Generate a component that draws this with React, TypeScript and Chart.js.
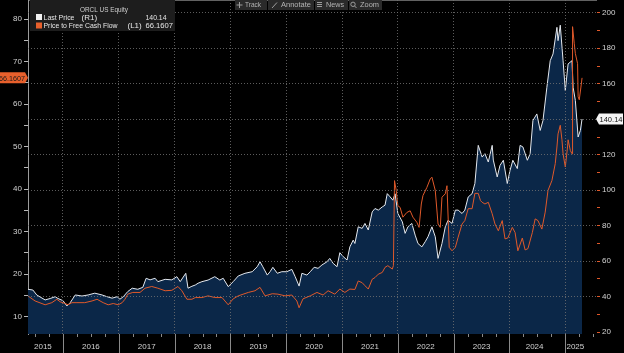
import React, { useEffect, useRef } from "react";
import { Chart, registerables } from "chart.js";

Chart.register(...registerables);

// ---------- DATA ----------
const priceDates = [
  2015.37, 2015.46, 2015.53, 2015.68, 2015.77, 2015.86, 2015.91, 2016.0, 2016.07, 2016.13,
  2016.22, 2016.34, 2016.45, 2016.57, 2016.7, 2016.79, 2016.88, 2016.97, 2017.02, 2017.08,
  2017.16, 2017.24, 2017.34, 2017.43, 2017.49, 2017.56, 2017.65, 2017.7, 2017.83, 2017.95,
  2018.04, 2018.1, 2018.2, 2018.24, 2018.31, 2018.37, 2018.42, 2018.49, 2018.6, 2018.72,
  2018.81, 2018.87, 2018.96, 2019.05, 2019.14, 2019.26, 2019.39, 2019.48, 2019.53, 2019.58,
  2019.66, 2019.71, 2019.76, 2019.84, 2019.92, 2020.01, 2020.1, 2020.16, 2020.23, 2020.28,
  2020.37, 2020.43, 2020.5, 2020.57, 2020.64, 2020.73, 2020.78, 2020.84, 2020.91, 2020.96,
  2021.02, 2021.09, 2021.14, 2021.2, 2021.23, 2021.29, 2021.36, 2021.41, 2021.47, 2021.54,
  2021.59, 2021.65, 2021.72, 2021.77, 2021.81, 2021.86, 2021.91, 2021.95, 2022.0, 2022.08,
  2022.13, 2022.18, 2022.25, 2022.31, 2022.36, 2022.43, 2022.49, 2022.54, 2022.61, 2022.67,
  2022.72, 2022.79, 2022.85, 2022.9, 2022.97, 2023.03, 2023.08, 2023.15, 2023.2, 2023.26,
  2023.33, 2023.38, 2023.44, 2023.51, 2023.56, 2023.62, 2023.69, 2023.71, 2023.78, 2023.83,
  2023.89, 2023.96, 2024.01, 2024.06, 2024.14, 2024.19, 2024.24, 2024.32, 2024.37, 2024.42,
  2024.49, 2024.55, 2024.6, 2024.67, 2024.73, 2024.78, 2024.85, 2024.87, 2024.91, 2024.96,
  2025.0, 2025.05, 2025.12, 2025.14, 2025.18, 2025.23, 2025.27, 2025.3,
];
const priceValues = [
  44.2, 43.8, 41.0, 38.2, 39.0, 40.0, 39.0, 37.8, 34.8, 36.7,
  41.0, 40.4, 41.0, 42.0, 41.0, 40.0, 39.2, 40.0, 38.6, 40.0,
  42.9, 44.8, 44.2, 45.3, 50.4, 49.5, 50.4, 48.5, 49.8, 49.5,
  51.3, 48.5, 53.2, 44.8, 45.9, 46.6, 47.6, 48.5, 49.4, 51.3,
  49.4, 50.4, 45.7, 48.5, 51.7, 53.2, 54.1, 56.9, 59.7, 56.9,
  52.2, 54.1, 56.6, 53.2, 54.1, 54.1, 55.4, 51.3, 46.0, 53.2,
  52.2, 54.1, 56.6, 56.0, 57.9, 59.7, 61.6, 58.8, 56.9, 64.8,
  62.6, 60.7, 68.1, 71.9, 70.0, 79.4, 78.5, 81.3, 77.6, 87.8,
  89.7, 88.8, 90.6, 91.6, 98.1, 96.3, 94.4, 98.0, 86.9, 82.2,
  75.7, 79.4, 81.3, 74.7, 70.0, 68.1, 71.0, 73.8, 79.4, 73.8,
  61.6, 70.0, 79.4, 83.1, 81.3, 88.8, 88.8, 86.9, 88.8, 96.2,
  98.1, 103.8, 125.3, 118.7, 120.6, 115.9, 125.3, 117.0, 107.5, 114.0,
  116.9, 103.8, 111.2, 116.9, 112.2, 125.3, 124.4, 116.9, 120.6, 139.3,
  143.0, 133.7, 139.3, 158.0, 173.0, 176.8, 191.8, 184.3, 193.0, 173.0,
  156.2, 171.2, 173.0, 158.0, 150.6, 130.0, 133.7, 140.14,
];
const pfcfDates = [
  2015.37, 2015.5, 2015.68, 2015.8, 2015.89, 2015.95, 2016.04, 2016.09, 2016.16, 2016.25,
  2016.39, 2016.52, 2016.61, 2016.72, 2016.81, 2016.9, 2016.99, 2017.06, 2017.11, 2017.16,
  2017.25, 2017.38, 2017.47, 2017.59, 2017.7, 2017.83, 2017.95, 2018.06, 2018.13, 2018.22,
  2018.31, 2018.37, 2018.49, 2018.6, 2018.72, 2018.85, 2018.96, 2019.05, 2019.14, 2019.32,
  2019.44, 2019.53, 2019.62, 2019.75, 2019.85, 2019.98, 2020.1, 2020.19, 2020.23, 2020.3,
  2020.43, 2020.55, 2020.66, 2020.75, 2020.87, 2020.96, 2021.05, 2021.14, 2021.23, 2021.29,
  2021.36, 2021.41, 2021.47, 2021.54, 2021.59, 2021.65, 2021.72, 2021.77, 2021.82, 2021.9,
  2021.92, 2021.94, 2021.97, 2022.0, 2022.04, 2022.09, 2022.16, 2022.22, 2022.27, 2022.34,
  2022.38, 2022.42, 2022.45, 2022.52, 2022.58, 2022.61, 2022.67, 2022.72, 2022.76, 2022.79,
  2022.85, 2022.88, 2022.92, 2022.97, 2023.03, 2023.08, 2023.15, 2023.2, 2023.26, 2023.33,
  2023.38, 2023.44, 2023.48, 2023.51, 2023.56, 2023.62, 2023.69, 2023.74, 2023.8, 2023.87,
  2023.92, 2023.97, 2024.05, 2024.1, 2024.15, 2024.23, 2024.28, 2024.33, 2024.41, 2024.46,
  2024.51, 2024.58, 2024.64, 2024.69, 2024.76, 2024.82, 2024.85, 2024.87, 2024.91, 2024.94,
  2024.96, 2025.0, 2025.04, 2025.05, 2025.09, 2025.12, 2025.13, 2025.16, 2025.18, 2025.22,
  2025.23, 2025.25, 2025.28, 2025.3,
];
const pfcfValues = [
  14.9, 13.7, 12.8, 13.3, 14.1, 13.5, 13.1, 12.8, 13.3, 13.3,
  13.3, 13.7, 14.1, 13.3, 12.8, 13.1, 12.8, 13.3, 14.1, 15.3,
  15.7, 15.7, 16.7, 17.1, 16.7, 16.1, 16.2, 17.1, 16.1, 14.1,
  14.1, 14.5, 14.5, 14.9, 14.5, 14.5, 12.8, 14.2, 14.9, 15.7,
  16.1, 16.9, 14.9, 15.4, 15.3, 14.9, 15.1, 13.7, 12.1, 14.2,
  14.9, 15.7, 15.1, 16.1, 15.3, 16.5, 15.7, 16.5, 16.4, 18.4,
  18.0, 17.3, 16.5, 18.8, 19.2, 20.0, 20.4, 21.6, 22.0, 21.2,
  22.0, 42.0, 39.7, 36.1, 35.7, 33.4, 34.5, 34.9, 33.4, 32.2,
  31.0, 36.5, 38.5, 40.4, 42.4, 42.8, 39.7, 31.8, 31.0, 38.1,
  38.9, 40.8, 26.3, 25.5, 26.3, 28.7, 31.8, 32.6, 35.4, 35.4,
  39.0, 39.0, 37.3, 36.9, 36.5, 36.9, 34.2, 31.8, 30.2, 32.6,
  28.3, 28.5, 31.0, 29.8, 25.5, 28.5, 25.7, 26.0, 29.8, 33.0,
  32.6, 30.6, 34.6, 39.7, 42.0, 46.0, 49.9, 53.0, 55.0, 51.6,
  48.3, 45.2, 49.9, 51.6, 49.1, 48.3, 78.2, 74.3, 71.9, 69.5,
  61.7, 61.0, 64.0, 66.1607,
];

const yearBoundaries = [2016, 2017, 2018, 2019, 2020, 2021, 2022, 2023, 2024, 2025];
const yearLabelPositions = [2015.64, 2016.5, 2017.5, 2018.5, 2019.5, 2020.5, 2021.5, 2022.5, 2023.5, 2024.45, 2025.18];
const yearLabels = ["2015", "2016", "2017", "2018", "2019", "2020", "2021", "2022", "2023", "2024", "2025"];
const priceTicks = [20, 30, 40, 50, 60, 70, 80, 90, 100, 110, 120, 130, 140, 150, 160, 170, 180, 190, 200];
const pfcfTicks = [10, 15, 20, 25, 30, 35, 40, 45, 50, 55, 60, 65, 70, 75, 80];

const tickerTitle = "ORCL US Equity";
const priceLabel = "Last Price";
const priceAxisTag = "(R1)";
const pfcfLabel = "Price to Free Cash Flow";
const pfcfAxisTag = "(L1)";
const toolbarItems = ["Track", "Annotate", "News", "Zoom"];

// ---------- STYLE ----------
const X_MIN = 2015.373;
const X_MAX = 2025.55;
const PRICE_MIN = 19.0;
const PRICE_MAX = 207.2;
const PFCF_MIN = 5.93;
const PFCF_MAX = 84.47;

const FONT = '"Liberation Sans", Arial, sans-serif';
const GRID = "rgba(115,115,115,0.8)";
const ORANGE = "#e0592a";
const NAVY = "#0b2748";
const WHITE_LINE = "#e4e8ee";
const TICK_TEXT = "#d2d2d2";

const near = (a: number, b: number) => Math.abs(a - b) < 1e-6;

function txt(
  ctx: CanvasRenderingContext2D,
  s: string,
  x: number,
  y: number,
  size: number,
  color: string,
  align: CanvasTextAlign,
  maxW?: number
) {
  ctx.font = `${size}px ${FONT}`;
  ctx.fillStyle = color;
  ctx.textAlign = align;
  ctx.textBaseline = "middle";
  if (maxW) ctx.fillText(s, x, y, maxW);
  else ctx.fillText(s, x, y);
}

const overlayPlugin = {
  id: "bbgOverlay",
  afterDraw(chart: any) {
    const ctx = chart.ctx as CanvasRenderingContext2D;
    const area = chart.chartArea;
    const xs = chart.scales.x;
    const yR = chart.scales.yR;
    const yL = chart.scales.yL;
    ctx.save();

    // keep the left margin clean (black)
    ctx.fillStyle = "#000";
    ctx.fillRect(0, 0, 4, chart.height);

    // year separators & quarter ticks under the time axis
    ctx.strokeStyle = "#8a8a8a";
    ctx.lineWidth = 1;
    ctx.beginPath();
    yearBoundaries.forEach((b) => {
      const px = Math.round(xs.getPixelForValue(b)) + 0.5;
      ctx.moveTo(px, area.bottom);
      ctx.lineTo(px, chart.height);
    });
    ctx.stroke();
    ctx.beginPath();
    for (let yr = 2015; yr <= 2025; yr++) {
      for (const q of [0.25, 0.5, 0.75]) {
        const v = yr + q;
        if (v <= X_MIN || v >= X_MAX) continue;
        const px = Math.round(xs.getPixelForValue(v)) + 0.5;
        ctx.moveTo(px, area.bottom);
        ctx.lineTo(px, area.bottom + 3);
      }
    }
    ctx.stroke();

    // legend box
    ctx.fillStyle = "#1d1d1d";
    ctx.fillRect(30, 0, 145, 31);
    txt(ctx, tickerTitle, 104, 9.5, 8, "#cfcfcf", "center", 48);
    const lastPrice = priceValues[priceValues.length - 1];
    const lastPfcf = pfcfValues[pfcfValues.length - 1];
    ctx.fillStyle = "#f2f2f2";
    ctx.fillRect(36, 14, 6, 6);
    ctx.fillStyle = "#e8602c";
    ctx.fillRect(36, 22.5, 6, 6);
    txt(ctx, priceLabel, 43.5, 17.5, 8, "#e6e6e6", "left", 31);
    txt(ctx, priceAxisTag, 81.5, 17.5, 8, "#e6e6e6", "left", 17);
    txt(ctx, lastPrice.toFixed(2), 145.5, 17.5, 8, "#e6e6e6", "left", 21);
    txt(ctx, pfcfLabel, 43.5, 26, 8, "#e6e6e6", "left", 74);
    txt(ctx, pfcfAxisTag, 127.5, 26, 8, "#e6e6e6", "left", 14.5);
    txt(ctx, lastPfcf.toFixed(4), 145.5, 26, 8, "#e6e6e6", "left", 27.5);

    // toolbar
    const btns = [
      [235, 32],
      [268, 46],
      [315, 33],
      [349, 33],
    ];
    ctx.fillStyle = "#2a2a2a";
    btns.forEach(([bx, bw]) => ctx.fillRect(bx, 0, bw, 10));
    ctx.strokeStyle = "#9c9c9c";
    ctx.lineWidth = 1;
    ctx.beginPath();
    ctx.moveTo(236.5, 5); ctx.lineTo(242.5, 5);
    ctx.moveTo(239.5, 2); ctx.lineTo(239.5, 8);
    ctx.moveTo(272, 8); ctx.lineTo(277, 2.5);
    ctx.moveTo(317, 2.5); ctx.lineTo(322, 2.5);
    ctx.moveTo(317, 4.5); ctx.lineTo(322, 4.5);
    ctx.moveTo(317, 6.5); ctx.lineTo(322, 6.5);
    ctx.stroke();
    ctx.beginPath();
    ctx.arc(353, 4.3, 2.2, 0, Math.PI * 2);
    ctx.moveTo(354.6, 6); ctx.lineTo(356.5, 8);
    ctx.stroke();
    txt(ctx, toolbarItems[0], 245, 5, 7.5, "#b4b4b4", "left", 16);
    txt(ctx, toolbarItems[1], 281, 5, 7.5, "#b4b4b4", "left", 30);
    txt(ctx, toolbarItems[2], 326, 5, 7.5, "#b4b4b4", "left", 18);
    txt(ctx, toolbarItems[3], 360, 5, 7.5, "#b4b4b4", "left", 19);

    // left badge (P/FCF last value)
    const yl = yL.getPixelForValue(lastPfcf);
    ctx.fillStyle = "#e8602c";
    ctx.beginPath();
    ctx.moveTo(0, yl - 5.5);
    ctx.lineTo(25, yl - 5.5);
    ctx.lineTo(28, yl);
    ctx.lineTo(25, yl + 5.5);
    ctx.lineTo(0, yl + 5.5);
    ctx.closePath();
    ctx.fill();
    txt(ctx, lastPfcf.toFixed(4), 25, yl + 0.5, 8, "#1a1a1a", "right", 26);

    // right badge (last price)
    const yr = yR.getPixelForValue(lastPrice);
    ctx.fillStyle = "#f4f4f4";
    ctx.beginPath();
    ctx.moveTo(596, yr);
    ctx.lineTo(599, yr - 5.5);
    ctx.lineTo(623, yr - 5.5);
    ctx.lineTo(623, yr + 5.5);
    ctx.lineTo(599, yr + 5.5);
    ctx.closePath();
    ctx.fill();
    txt(ctx, lastPrice.toFixed(2), 611, yr + 0.5, 8, "#111111", "center", 23);

    ctx.restore();
  },
};

export default function App() {
  const ref = useRef<HTMLCanvasElement>(null);

  useEffect(() => {
    document.body.style.margin = "0";
    document.body.style.background = "#000";
    const pricePoints = priceDates.map((d, i) => ({ x: d, y: priceValues[i] }));
    const pfcfPoints = pfcfDates.map((d, i) => ({ x: d, y: pfcfValues[i] }));

    const chart = new Chart(ref.current as HTMLCanvasElement, {
      type: "line",
      data: {
        datasets: [
          {
            label: "Last Price area",
            data: pricePoints,
            xAxisID: "x",
            yAxisID: "yR",
            borderWidth: 0,
            borderColor: "rgba(0,0,0,0)",
            backgroundColor: NAVY,
            fill: "start",
            pointRadius: 0,
            order: 3,
          },
          {
            label: "Last Price (R1)",
            data: pricePoints,
            xAxisID: "x",
            yAxisID: "yR",
            borderColor: WHITE_LINE,
            borderWidth: 1,
            fill: false,
            pointRadius: 0,
            order: 2,
          },
          {
            label: "Price to Free Cash Flow (L1)",
            data: pfcfPoints,
            xAxisID: "x",
            yAxisID: "yL",
            borderColor: ORANGE,
            borderWidth: 1,
            fill: false,
            pointRadius: 0,
            order: 1,
          },
        ],
      } as any,
      options: {
        responsive: false,
        maintainAspectRatio: false,
        animation: false,
        events: [],
        layout: { padding: 0 },
        elements: { line: { tension: 0 }, point: { radius: 0 } },
        plugins: { legend: { display: false }, tooltip: { enabled: false } },
        scales: {
          x: {
            type: "linear",
            position: "bottom",
            min: X_MIN,
            max: X_MAX,
            afterBuildTicks: (s: any) => {
              const vals = [...yearBoundaries, ...yearLabelPositions].sort((a, b) => a - b);
              s.ticks = vals.map((v) => ({ value: v }));
            },
            afterFit: (s: any) => {
              s.height = 19;
              s.paddingLeft = 0;
              s.paddingRight = 0;
            },
            ticks: {
              autoSkip: false,
              maxRotation: 0,
              minRotation: 0,
              padding: 8,
              color: TICK_TEXT,
              font: { family: FONT, size: 8 },
              callback: (v: any) => {
                const i = yearLabelPositions.findIndex((p) => near(p, Number(v)));
                return i >= 0 ? yearLabels[i] : "";
              },
            },
            grid: {
              display: true,
              drawOnChartArea: true,
              drawTicks: false,
              z: 1,
              lineWidth: 1,
              color: (c: any) =>
                c.tick && yearBoundaries.some((b) => near(b, c.tick.value)) ? GRID : "rgba(0,0,0,0)",
            },
            border: { display: true, color: "#c4c4c4", width: 1, dash: [1, 2] },
          },
          yL: {
            type: "linear",
            position: "left",
            min: PFCF_MIN,
            max: PFCF_MAX,
            afterBuildTicks: (s: any) => {
              s.ticks = pfcfTicks.map((v) => ({ value: v }));
            },
            afterFit: (s: any) => {
              s.width = 28;
              s.paddingTop = 0;
              s.paddingBottom = 0;
            },
            ticks: {
              autoSkip: false,
              padding: 2,
              color: TICK_TEXT,
              font: { family: FONT, size: 8 },
              callback: (v: any) => (Number(v) % 10 === 0 ? String(v) : ""),
            },
            grid: {
              display: true,
              drawOnChartArea: false,
              drawTicks: true,
              tickLength: 4,
              tickColor: "#b8b8b8",
              tickWidth: 1,
            },
            border: { display: true, color: "#9c9c9c", width: 1 },
          },
          yR: {
            type: "linear",
            position: "right",
            min: PRICE_MIN,
            max: PRICE_MAX,
            afterBuildTicks: (s: any) => {
              s.ticks = priceTicks.map((v) => ({ value: v }));
            },
            afterFit: (s: any) => {
              s.width = 28;
              s.paddingTop = 0;
              s.paddingBottom = 0;
            },
            ticks: {
              autoSkip: false,
              padding: 2,
              color: TICK_TEXT,
              font: { family: FONT, size: 8 },
              callback: (v: any) => (Number(v) % 20 === 0 ? String(v) : ""),
            },
            grid: {
              display: true,
              drawOnChartArea: true,
              drawTicks: true,
              tickLength: 4,
              z: 1,
              lineWidth: 1,
              color: (c: any) =>
                c.tick && c.tick.value % 20 === 0 && c.tick.value > 20 ? GRID : "rgba(0,0,0,0)",
              tickColor: ORANGE,
              tickWidth: 1,
            },
            border: { display: true, color: ORANGE, width: 1, dash: [1, 2] },
          },
        },
      } as any,
      plugins: [overlayPlugin],
    });

    return () => chart.destroy();
  }, []);

  return (
    <div style={{ width: 624, height: 353, background: "#000", position: "relative" }}>
      <canvas
        ref={ref}
        width={624}
        height={353}
        style={{ display: "block", width: 624, height: 353, background: "#000" }}
      />
    </div>
  );
}
